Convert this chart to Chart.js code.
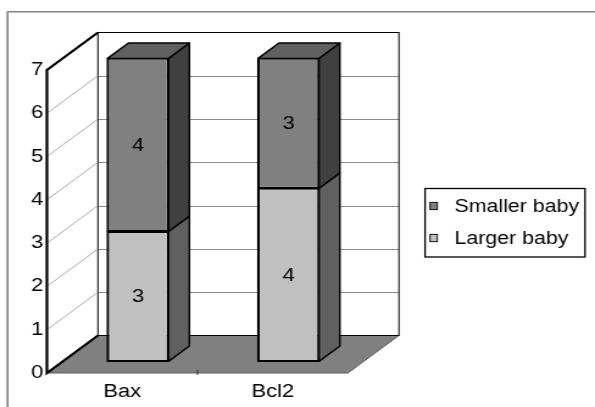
<!DOCTYPE html>
<html>
<head>
<meta charset="utf-8">
<script src="https://cdn.jsdelivr.net/npm/chart.js@4/dist/chart.umd.min.js"></script>
<style>
  html, body { margin: 0; padding: 0; background: #fff; overflow: hidden; }
  canvas { display: block; }
</style>
</head>
<body>
<!-- drawn at 488 px wide and shown 595 px wide (wide, Excel-style aspect) -->
<canvas id="chart" width="488" height="407" style="width:595px;height:407px"></canvas>
<script>
// ---- data ----
const categories = ['Bax', 'Bcl2'];
const largerBaby = [3, 4];
const smallerBaby = [4, 3];
const yTickValues = [0, 1, 2, 3, 4, 5, 6, 7];
const seriesNames = ['Larger baby', 'Smaller baby'];

// ---- styling ----
const FONT = 'Arial, "Liberation Sans", Helvetica, sans-serif';
const faceColors = ['#c0c0c0', '#808080'];
const sideColors = ['#606060', '#404040'];
const topColor = '#606060';
const DEPTH = { dx: 41.8, dy: -37.5 };   // full depth of the plot box
const BAR_FRONT = 0.31;                 // bar front face, as a fraction of depth
const BAR_BACK = 0.72;                  // bar back face, as a fraction of depth

const depth3d = {
  id: 'depth3d',
  beforeDraw(chart) {
    const { ctx, chartArea: a, scales } = chart;
    const ys = scales.y, xs = scales.x;
    const { dx, dy } = DEPTH;
    ctx.save();
    ctx.fillStyle = '#fff';
    ctx.fillRect(0, 0, chart.width, chart.height);

    // outer frame (left and top edges)
    ctx.strokeStyle = '#858585';
    ctx.lineWidth = 1.6;
    ctx.beginPath();
    ctx.moveTo(6.2, chart.height + 2);
    ctx.lineTo(6.2, 11.7);
    ctx.lineTo(chart.width + 2, 11.7);
    ctx.stroke();

    // back wall
    ctx.fillStyle = '#fff';
    ctx.fillRect(a.left + dx, a.top + dy, a.right - a.left, a.bottom - a.top);
    ctx.strokeStyle = '#8c8c8c';
    ctx.lineWidth = 1;
    yTickValues.forEach(v => {
      if (v === ys.min || v === ys.max) return;
      const py = Math.round(ys.getPixelForValue(v) + dy) + 0.5;
      ctx.beginPath();
      ctx.moveTo(a.left + dx, py);
      ctx.lineTo(a.right + dx, py);
      ctx.stroke();
    });
    ctx.strokeStyle = '#000';
    ctx.lineWidth = 1;
    ctx.strokeRect(a.left + dx, a.top + dy, a.right - a.left, a.bottom - a.top);

    // left wall gridlines
    ctx.strokeStyle = '#a0a0a0';
    ctx.lineWidth = 0.9;
    yTickValues.forEach(v => {
      if (v === ys.min || v === ys.max) return;
      const py = ys.getPixelForValue(v);
      ctx.beginPath();
      ctx.moveTo(a.left, py);
      ctx.lineTo(a.left + dx, py + dy);
      ctx.stroke();
    });

    // floor
    ctx.fillStyle = '#808080';
    ctx.beginPath();
    ctx.moveTo(a.left, a.bottom);
    ctx.lineTo(a.right, a.bottom);
    ctx.lineTo(a.right + dx, a.bottom + dy);
    ctx.lineTo(a.left + dx, a.bottom + dy);
    ctx.closePath();
    ctx.fill();
    ctx.strokeStyle = '#5c5c5c';
    ctx.lineWidth = 1;
    ctx.beginPath();
    ctx.moveTo(a.left, a.bottom);
    ctx.lineTo(a.right, a.bottom);
    ctx.lineTo(a.right + dx, a.bottom + dy);
    ctx.stroke();
    ctx.strokeStyle = '#000';
    ctx.beginPath();
    ctx.moveTo(a.left + dx, a.bottom + dy);
    ctx.lineTo(a.right + dx, a.bottom + dy);
    ctx.stroke();

    // category separators on the floor's front edge
    ctx.strokeStyle = '#333';
    ctx.lineWidth = 1;
    for (let i = 1; i < categories.length; i++) {
      const bx = (xs.getPixelForTick(i - 1) + xs.getPixelForTick(i)) / 2;
      ctx.beginPath();
      ctx.moveTo(bx, a.bottom - 3);
      ctx.lineTo(bx, a.bottom + 2);
      ctx.stroke();
    }

    // left wall edges (value axis)
    ctx.strokeStyle = '#000';
    ctx.lineWidth = 2.2;
    ctx.lineJoin = 'miter';
    ctx.beginPath();
    ctx.moveTo(a.left + dx, a.top + dy);
    ctx.lineTo(a.left, a.top);
    ctx.lineTo(a.left, a.bottom);
    ctx.lineTo(a.left + dx, a.bottom + dy);
    ctx.stroke();
    ctx.restore();
  },
  beforeDatasetsDraw(chart) {
    // bar front faces sit part-way into the depth of the box
    chart.ctx.save();
    chart.ctx.translate(DEPTH.dx * BAR_FRONT, DEPTH.dy * BAR_FRONT);
  },
  afterDatasetsDraw(chart) {
    const ctx = chart.ctx;
    ctx.restore();
    const fx = DEPTH.dx * BAR_FRONT, fy = DEPTH.dy * BAR_FRONT;
    const bx = DEPTH.dx * (BAR_BACK - BAR_FRONT), by = DEPTH.dy * (BAR_BACK - BAR_FRONT);
    const last = chart.data.datasets.length - 1;
    ctx.save();
    ctx.strokeStyle = '#000';
    ctx.lineWidth = 1.4;
    ctx.lineJoin = 'round';
    chart.data.datasets.forEach((ds, di) => {
      const meta = chart.getDatasetMeta(di);
      meta.data.forEach(el => {
        const p = el.getProps(['x', 'y', 'base', 'width'], true);
        const l = p.x - p.width / 2 + fx, r = p.x + p.width / 2 + fx;
        const t = p.y + fy, b = p.base + fy;
        // front face outline
        ctx.strokeRect(l, t, r - l, b - t);
        // side face
        ctx.fillStyle = sideColors[di];
        ctx.beginPath();
        ctx.moveTo(r, t);
        ctx.lineTo(r + bx, t + by);
        ctx.lineTo(r + bx, b + by);
        ctx.lineTo(r, b);
        ctx.closePath();
        ctx.fill();
        ctx.stroke();
        if (di === last) {
          ctx.fillStyle = topColor;
          ctx.beginPath();
          ctx.moveTo(l, t);
          ctx.lineTo(l + bx, t + by);
          ctx.lineTo(r + bx, t + by);
          ctx.lineTo(r, t);
          ctx.closePath();
          ctx.fill();
          ctx.stroke();
        }
      });
    });

    // value labels on the front faces
    ctx.fillStyle = '#000';
    ctx.font = '18px ' + FONT;
    ctx.textAlign = 'center';
    ctx.textBaseline = 'middle';
    chart.data.datasets.forEach((ds, di) => {
      const meta = chart.getDatasetMeta(di);
      meta.data.forEach((el, i) => {
        const p = el.getProps(['x', 'y', 'base'], true);
        ctx.fillText(String(ds.data[i]), p.x + fx, (p.y + p.base) / 2 + fy + 1);
      });
    });
    ctx.restore();
  },
  afterDraw(chart) {
    // legend, listed top series first
    const ctx = chart.ctx;
    ctx.save();
    ctx.strokeStyle = '#000';
    ctx.lineWidth = 1.3;
    ctx.strokeRect(348.6, 188.5, 131.2, 68.5);
    ctx.font = '17.5px ' + FONT;
    ctx.textAlign = 'left';
    ctx.textBaseline = 'middle';
    const rows = [206, 238];
    const order = chart.data.datasets.map((d, i) => i).reverse();
    order.forEach((di, k) => {
      const ds = chart.data.datasets[di];
      const cy = rows[k];
      ctx.fillStyle = ds.backgroundColor;
      ctx.fillRect(352.7, cy - 3.65, 6, 7.3);
      ctx.lineWidth = 0.9;
      ctx.strokeRect(352.7, cy - 3.65, 6, 7.3);
      ctx.fillStyle = '#000';
      ctx.fillText(ds.label, 372.8, cy + 1);
    });
    ctx.restore();
  }
};

new Chart(document.getElementById('chart'), {
  type: 'bar',
  data: {
    labels: categories,
    datasets: [
      { label: seriesNames[0], data: largerBaby, backgroundColor: faceColors[0] },
      { label: seriesNames[1], data: smallerBaby, backgroundColor: faceColors[1] }
    ]
  },
  options: {
    responsive: false,
    animation: false,
    devicePixelRatio: 1,
    layout: { padding: { left: 0, top: 70, right: 202.6, bottom: 0 } },
    datasets: {
      bar: {
        categoryPercentage: 1,
        barPercentage: 0.405,
        borderColor: '#000',
        borderWidth: 1.4,
        borderSkipped: false,
        clip: false
      }
    },
    scales: {
      x: {
        stacked: true,
        grid: { display: false, drawTicks: false },
        border: { display: false },
        ticks: { color: '#000', font: { family: FONT, size: 18 }, padding: 8 },
        afterFit(s) { s.height = 34; }
      },
      y: {
        stacked: true,
        min: 0,
        max: 7,
        grid: { display: false, drawTicks: false },
        border: { display: false },
        afterBuildTicks(s) { s.ticks = yTickValues.map(v => ({ value: v })); },
        ticks: { color: '#000', font: { family: FONT, size: 18 }, padding: 3 },
        afterFit(s) { s.width = 38.5; }
      }
    },
    plugins: {
      legend: { display: false },
      tooltip: { enabled: false }
    }
  },
  plugins: [depth3d]
});
</script>
</body>
</html>
